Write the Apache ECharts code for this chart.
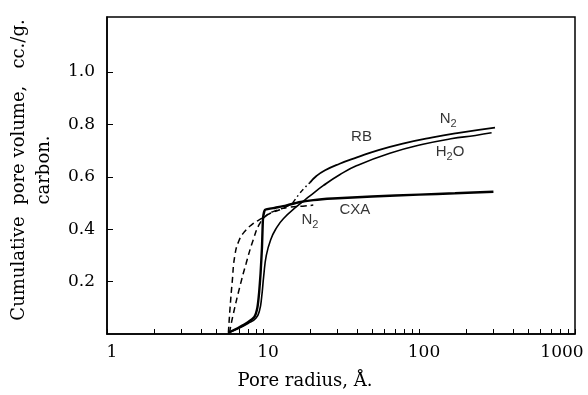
<!DOCTYPE html>
<html>
<head>
<meta charset="utf-8">
<script src="https://cdn.jsdelivr.net/npm/echarts@6/dist/echarts.min.js"></script>
<style>html,body{margin:0;padding:0;background:#fff}#c{width:588px;height:395px}</style>
</head>
<body>
<div id="c"></div>
<script>
// ---- data ----
const xTickValues = [1,2,3,4,5,6,7,8,9,10,20,30,40,50,60,70,80,90,100,200,300,400,500,600,700,800,900,1000];
const xLabelValues = [1, 10, 100, 1000];
const yTickValues = [0.2, 0.4, 0.6, 0.8, 1.0];

// CXA, water (heavy solid)
const cxaH2O_x = [6.0, 7.0, 8.0, 8.8, 9.2, 9.45, 9.65, 9.85, 10.0, 10.3, 12, 14, 17, 21, 28, 50, 100, 170, 300];
const cxaH2O_y = [0.005, 0.025, 0.045, 0.065, 0.1, 0.16, 0.232, 0.33, 0.44, 0.474, 0.482, 0.49, 0.503, 0.511, 0.517, 0.525, 0.532, 0.537, 0.543];
// CXA, nitrogen (dashed)
const cxaN2_x = [6.1, 6.4, 7.1, 7.8, 8.65, 9.5, 10.5, 12.2, 14.8, 18, 21];
const cxaN2_y = [0.005, 0.067, 0.18, 0.27, 0.359, 0.42, 0.452, 0.472, 0.484, 0.488, 0.492];
// RB, water (solid)
const rbH2O_x = [6.0, 7.0, 8.0, 9.0, 9.5, 9.8, 10.1, 10.5, 11.2, 12.2, 13.5, 16.4, 20, 24.3, 31, 40, 65, 106, 160, 230, 292];
const rbH2O_y = [0.005, 0.022, 0.04, 0.06, 0.09, 0.14, 0.22, 0.3, 0.36, 0.405, 0.44, 0.486, 0.527, 0.566, 0.608, 0.643, 0.69, 0.724, 0.745, 0.758, 0.768];
// RB, nitrogen: dashed low range, dash-dot bridge, solid
const rbN2Low_x = [6.0, 6.15, 6.35, 6.6, 7.0, 7.6, 8.6, 9.8, 11, 13.5, 15.5];
const rbN2Low_y = [0.005, 0.1, 0.2, 0.3, 0.355, 0.39, 0.42, 0.441, 0.459, 0.48, 0.5];
const rbN2Mid_x = [15.5, 17, 18.5, 20];
const rbN2Mid_y = [0.5, 0.533, 0.558, 0.578];
const rbN2High_x = [20, 22, 25, 31, 40, 55, 80, 120, 180, 307];
const rbN2High_y = [0.578, 0.603, 0.625, 0.65, 0.674, 0.702, 0.728, 0.75, 0.768, 0.788];

// curve annotations
const annoText = ['{n|RB}', '{n|N}{s|2}', '{n|H}{s|2}{n|O}', '{n|CXA}', '{n|N}{s|2}'];
const annoX = [42.8, 154, 158, 38.8, 20];
const annoY = [0.752, 0.822, 0.695, 0.473, 0.435];

const zip = (xs, ys) => xs.map((x, i) => [x, ys[i]]);

const serif = 'DejaVu Serif';
const lineSeries = (data, width, type, smooth) => ({
  type: 'line', data, showSymbol: false, smooth: smooth,
  lineStyle: { color: '#000', width, type }, silent: true, animation: false, z: 3
});

const chart = echarts.init(document.getElementById('c'), null, { renderer: 'canvas' });
chart.setOption({
  animation: false,
  backgroundColor: '#fff',
  grid: { left: 107, right: 13, top: 17, bottom: 61, show: true, borderColor: '#000', borderWidth: 1.5 },
  xAxis: {
    type: 'log', logBase: 10, min: 1, max: 1000,
    axisLine: { show: true, lineStyle: { color: '#000', width: 1.5 } },
    axisTick: { show: true, inside: true, length: 5, customValues: xTickValues, lineStyle: { color: '#000', width: 1 } },
    minorTick: { show: false },
    splitLine: { show: false },
    axisLabel: {
      customValues: xLabelValues, margin: 10, color: '#000', fontFamily: serif, fontSize: 17,
      formatter: v => {
        const s = String(Math.round(v));
        return s === '1000' ? '{r|' + s + '}' : '{l|' + s + '}';
      },
      rich: {
        l: { fontFamily: serif, fontSize: 17, color: '#000', padding: [0, 0, 0, 10] },
        r: { fontFamily: serif, fontSize: 17, color: '#000', padding: [0, 26, 0, 0] }
      }
    }
  },
  yAxis: {
    type: 'value', min: 0, max: 1.21,
    axisLine: { show: true, lineStyle: { color: '#000', width: 1.5 } },
    axisTick: { show: true, inside: true, length: 6, customValues: yTickValues, lineStyle: { color: '#000', width: 1 } },
    splitLine: { show: false },
    axisLabel: {
      customValues: yTickValues, margin: 12, color: '#000', fontFamily: serif, fontSize: 17,
      formatter: v => v.toFixed(1)
    }
  },
  graphic: [
    {
      type: 'text', x: 32, y: 170, rotation: Math.PI / 2,
      style: {
        text: 'Cumulative  pore volume,   cc./g.\ncarbon.',
        fontFamily: serif, fontSize: 18, lineHeight: 25, fill: '#000',
        align: 'center', verticalAlign: 'middle'
      }
    },
    {
      type: 'text', x: 305, y: 381,
      style: {
        text: 'Pore radius, Å.', fontFamily: serif, fontSize: 18, fill: '#000',
        align: 'center', verticalAlign: 'middle'
      }
    }
  ],
  series: [
    lineSeries(zip(cxaH2O_x, cxaH2O_y), 2.4, 'solid', 0.15),
    lineSeries(zip(cxaN2_x, cxaN2_y), 1.5, [6, 4], 0.5),
    lineSeries(zip(rbH2O_x, rbH2O_y), 1.6, 'solid', 0.5),
    lineSeries(zip(rbN2Low_x, rbN2Low_y), 1.5, [6, 4], 0.5),
    lineSeries(zip(rbN2Mid_x, rbN2Mid_y), 1.5, [5, 3, 1.5, 3], 0.5),
    lineSeries(zip(rbN2High_x, rbN2High_y), 1.8, 'solid', 0.5),
    {
      type: 'scatter', symbolSize: 0, silent: true, animation: false, z: 5,
      data: annoX.map((x, i) => ({ value: [x, annoY[i]], name: annoText[i] })),
      label: {
        show: true, position: 'inside', color: '#000',
        formatter: p => p.name,
        rich: {
          n: { fontFamily: 'Liberation Sans', fontSize: 15, color: '#000' },
          s: { fontFamily: 'Liberation Sans', fontSize: 11, color: '#000', padding: [10, 0, 0, 0] }
        }
      }
    }
  ]
});
</script>
</body>
</html>
